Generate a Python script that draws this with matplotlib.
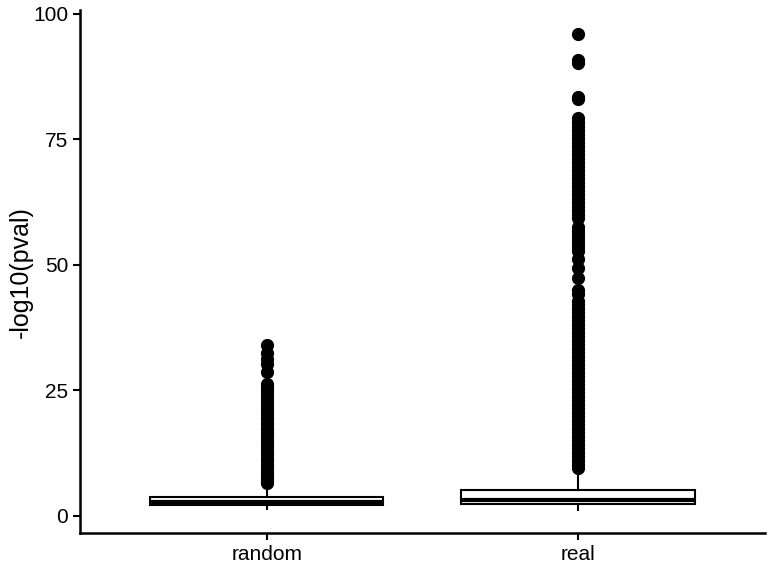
import matplotlib
matplotlib.use("Agg")
import matplotlib.pyplot as plt

plt.rcParams['font.family'] = ['Liberation Sans', 'DejaVu Sans']

# box summaries
groups = ["random", "real"]
q1 = [2.1, 2.3]
med = [2.8, 3.2]
q3 = [3.8, 5.0]
whislo = [1.4, 1.2]
whishi = [5.9, 8.4]

# outliers, read top to bottom
fliers_random = [34.0, 32.4, 31.3, 30.3, 28.6, 26.3, 25.5, 24.8, 24.0, 23.2,
                 22.5, 21.7, 21.0, 20.2, 19.5, 18.7, 18.0, 17.3, 16.5, 15.8,
                 15.0, 14.3, 13.6, 12.9, 12.2, 11.5, 10.8, 10.1, 9.4, 8.7,
                 8.0, 7.4, 6.8, 6.4]
fliers_real = [95.9, 90.8, 90.2, 83.4, 83.0, 79.2, 78.4, 77.6, 76.9, 76.1,
               75.3, 74.5, 73.6, 72.8, 72.1, 71.3, 70.5, 69.6, 68.8, 68.1,
               67.3, 66.5, 65.6, 64.8, 64.1, 63.3, 62.5, 61.7, 60.9, 60.1,
               59.3, 57.6, 56.8, 56.0, 55.2, 54.4, 53.5, 52.7, 51.2, 49.3,
               47.4, 45.0, 44.2, 42.8, 42.0, 41.2, 40.4, 39.6, 38.8, 38.0,
               37.2, 36.4, 35.6, 34.8, 34.0, 33.2, 32.4, 31.6, 30.8, 30.0,
               29.2, 28.4, 27.6, 26.8, 26.0, 25.2, 24.4, 23.6, 22.8, 22.0,
               21.2, 20.4, 19.6, 18.8, 18.0, 17.2, 16.4, 15.6, 14.8, 14.0,
               13.2, 12.4, 11.6, 10.8, 10.1, 9.4]
fliers = [fliers_random, fliers_real]

stats = []
for i, g in enumerate(groups):
    stats.append(dict(label=g, q1=q1[i], med=med[i], q3=q3[i],
                      whislo=whislo[i], whishi=whishi[i], fliers=fliers[i]))

fig = plt.figure(figsize=(7.68, 5.69), dpi=100)
ax = fig.add_axes([0.104, 0.063, 0.892, 0.919])

ax.bxp(stats, positions=[1, 2], widths=0.75, patch_artist=True, showcaps=False,
       boxprops=dict(facecolor='white', edgecolor='black', linewidth=1.5),
       medianprops=dict(color='black', linewidth=3.0, solid_capstyle='butt'),
       whiskerprops=dict(color='black', linewidth=1.5),
       flierprops=dict(marker='o', markerfacecolor='black', markeredgecolor='black',
                       markersize=8.5, linestyle='none'))

ax.set_xlim(0.4, 2.6)
ax.set_ylim(-3.5, 100.7)
ax.set_yticks([0, 25, 50, 75, 100])
ax.set_xticks([1, 2])
ax.set_xticklabels(groups)
ax.set_ylabel('-log10(pval)', fontsize=18)
ax.yaxis.set_label_coords(-0.069, 0.5)

for s in ['top', 'right']:
    ax.spines[s].set_visible(False)
for s in ['left', 'bottom']:
    ax.spines[s].set_linewidth(1.8)
ax.tick_params(axis='both', length=5, width=1.5, labelsize=15, colors='black')

fig.savefig('out.png', dpi=100)
